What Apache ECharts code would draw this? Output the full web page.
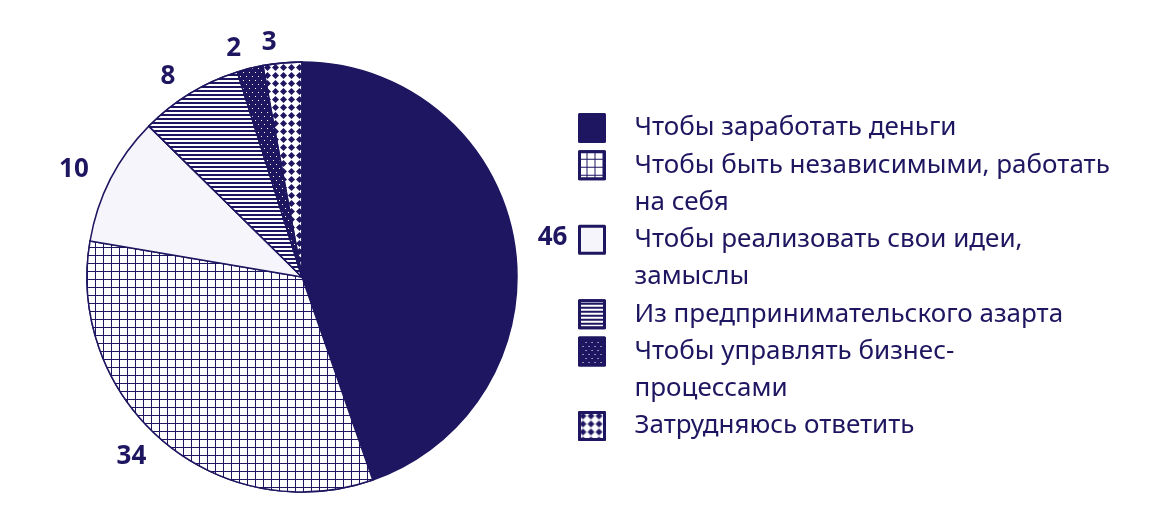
<!DOCTYPE html>
<html>
<head>
<meta charset="utf-8">
<script src="https://cdn.jsdelivr.net/npm/echarts@6/dist/echarts.min.js"></script>
<style>
  html, body { margin: 0; padding: 0; background: #ffffff; }
  #chart { width: 1174px; height: 530px; }
</style>
</head>
<body>
<div id="chart"></div>
<script>
// ---- data ----
const categories = [
  'Чтобы заработать деньги',
  'Чтобы быть независимыми, работать\nна себя',
  'Чтобы реализовать свои идеи,\nзамыслы',
  'Из предпринимательского азарта',
  'Чтобы управлять бизнес-\nпроцессами',
  'Затрудняюсь ответить'
];
const values = [46, 34, 10, 8, 2, 3];

// ---- styles ----
const NAVY = '#1e1660';
const FONT = 'Noto Sans';
const sliceStyles = [
  { color: NAVY },
  { color: NAVY, decal: { symbol: 'rect', color: '#ffffff', dashArrayX: [7, 1], dashArrayY: [7, 1], symbolSize: 1 } },
  { color: '#f6f5fc' },
  { color: NAVY, decal: { symbol: 'rect', color: '#ffffff', dashArrayX: [1, 0], dashArrayY: [2, 2], symbolSize: 1 } },
  { color: NAVY, decal: { symbol: 'rect', color: '#ffffff', dashArrayX: [[1, 5], [0, 3, 1, 2]], dashArrayY: [1, 3], symbolSize: 1 } },
  { color: '#ffffff', decal: { symbol: 'diamond', color: NAVY, dashArrayX: [7, 1], dashArrayY: [7, 1], symbolSize: 1 } }
];

const chart = echarts.init(document.getElementById('chart'), null, { renderer: 'canvas' });

// legends: one per item so the icon lines up with the first text line
const LINE_STEP = 37.25;
const LINE_H = 37;
const ICON_W = 25, ICON_H = 27;
const FIRST_ICON_CENTER = 128;
let cumLines = 0;
const legends = categories.map(function (name) {
  const lines = name.split('\n').length;
  const center = FIRST_ICON_CENTER + cumLines * LINE_STEP;
  cumLines += lines;
  const lead = new Array(lines).join('\n'); // blank lines so line 1 sits at the icon's centre
  const half = (2 * lines - 1) * LINE_H / 2;
  return {
    data: [name],
    orient: 'vertical',
    left: 578,
    top: center - half,
    padding: 0,
    icon: 'rect',
    itemWidth: ICON_W,
    itemHeight: ICON_H,
    selectedMode: false,
    formatter: function (n) { return lead + n; },
    itemStyle: { borderColor: NAVY, borderWidth: 3 },
    textStyle: {
      color: NAVY,
      fontFamily: FONT,
      fontSize: 26,
      lineHeight: LINE_H,
      padding: [0, 0, 0, 25]
    }
  };
});

chart.setOption({
  animation: false,
  legend: legends,
  series: [{
    type: 'pie',
    center: [302, 277],
    radius: 215,
    startAngle: 90,
    clockwise: true,
    avoidLabelOverlap: false,
    itemStyle: { borderColor: NAVY, borderWidth: 1.5 },
    label: {
      show: true,
      position: 'outside',
      formatter: '{c}',
      color: NAVY,
      fontFamily: FONT,
      fontWeight: 'bold',
      fontSize: 26,
      distanceToLabelLine: 4
    },
    labelLine: { show: false, length: 20, length2: 0 },
    emphasis: { disabled: true },
    data: categories.map(function (name, i) {
      return { name: name, value: values[i], itemStyle: sliceStyles[i] };
    })
  }]
});
</script>
</body>
</html>
